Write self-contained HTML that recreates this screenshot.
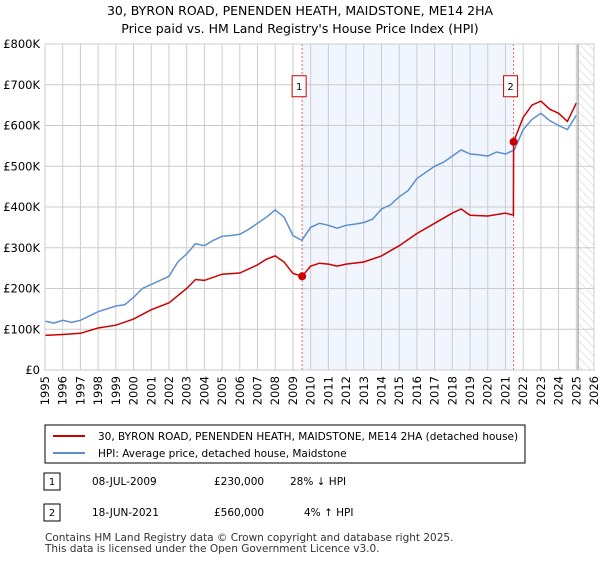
<!DOCTYPE html>
<html><head><meta charset="utf-8"><style>
body{margin:0;background:#fff;font-family:"Liberation Sans","DejaVu Sans",sans-serif;}
svg text{font-family:"DejaVu Sans","Liberation Sans",sans-serif;}
</style></head><body>
<svg id="c" width="600" height="560" xmlns="http://www.w3.org/2000/svg">
<defs><pattern id="hatch" width="6" height="6" patternUnits="userSpaceOnUse" patternTransform="rotate(-45)"><line x1="0" y1="0" x2="0" y2="6" stroke="#ccc" stroke-width="1"/></pattern></defs>
<text x="300" y="15" text-anchor="middle" font-size="12.5" fill="#000">30, BYRON ROAD, PENENDEN HEATH, MAIDSTONE, ME14 2HA</text>
<text x="300" y="33" text-anchor="middle" font-size="12.5" fill="#000">Price paid vs. HM Land Registry's House Price Index (HPI)</text>
<g id="plot"></g>
<rect x="45" y="425" width="480" height="38" fill="#fff" stroke="#000" stroke-width="1"/>
<line x1="53" y1="436" x2="85" y2="436" stroke="#cc0000" stroke-width="2"/>
<text x="98" y="440" font-size="10.5">30, BYRON ROAD, PENENDEN HEATH, MAIDSTONE, ME14 2HA (detached house)</text>
<line x1="53" y1="453" x2="85" y2="453" stroke="#5b8fd0" stroke-width="2"/>
<text x="98" y="457" font-size="10.5">HPI: Average price, detached house, Maidstone</text>
<rect x="44" y="473" width="16" height="17" fill="#fff" stroke="#000"/>
<text x="52" y="485" text-anchor="middle" font-size="10">1</text>
<text x="92" y="485" font-size="10.5">08-JUL-2009</text>
<text x="214" y="485" font-size="10.5">£230,000</text>
<text x="290" y="485" font-size="10.5">28% ↓ HPI</text>
<rect x="44" y="504" width="16" height="17" fill="#fff" stroke="#000"/>
<text x="52" y="516" text-anchor="middle" font-size="10">2</text>
<text x="92" y="516" font-size="10.5">18-JUN-2021</text>
<text x="214" y="516" font-size="10.5">£560,000</text>
<text x="304" y="516" font-size="10.5">4% ↑ HPI</text>
<text x="45" y="541" font-size="10.5" fill="#333">Contains HM Land Registry data © Crown copyright and database right 2025.</text>
<text x="45" y="552" font-size="10.5" fill="#333">This data is licensed under the Open Government Licence v3.0.</text>
</svg>
<script>
const yTicks=[0,100,200,300,400,500,600,700,800];
const yTickLabels=["£0","£100K","£200K","£300K","£400K","£500K","£600K","£700K","£800K"];
const xYears=[1995,1996,1997,1998,1999,2000,2001,2002,2003,2004,2005,2006,2007,2008,2009,2010,2011,2012,2013,2014,2015,2016,2017,2018,2019,2020,2021,2022,2023,2024,2025,2026];
const hpiT=[1995,1995.5,1996,1996.5,1997,1998,1999,1999.5,2000,2000.5,2001,2002,2002.5,2003,2003.5,2004,2004.5,2005,2005.5,2006,2006.5,2007,2007.5,2008,2008.5,2009,2009.5,2010,2010.5,2011,2011.5,2012,2012.5,2013,2013.5,2014,2014.5,2015,2015.5,2016,2016.5,2017,2017.5,2018,2018.5,2019,2019.5,2020,2020.5,2021,2021.5,2022,2022.5,2023,2023.5,2024,2024.5,2025];
const hpiV=[120,115,122,117,122,143,157,160,178,200,210,230,265,285,310,305,318,328,330,333,345,360,375,393,375,330,318,350,360,355,348,355,358,362,370,395,405,425,440,470,485,500,510,525,540,530,528,525,535,530,540,590,615,630,612,600,590,625];
const ppT=[1995,1996,1997,1998,1999,2000,2001,2002,2003,2003.5,2004,2005,2006,2007,2007.5,2008,2008.5,2009,2009.52,2010,2010.5,2011,2011.5,2012,2013,2014,2015,2016,2017,2018,2018.5,2019,2020,2021,2021.45,2021.46,2022,2022.5,2023,2023.5,2024,2024.5,2025];
const ppV=[85,87,90,103,110,125,148,165,200,222,220,235,238,258,272,280,265,237,230,255,262,260,255,260,265,280,305,335,360,385,395,380,378,385,380,560,620,650,660,640,630,610,655];
const saleT=[2009.52,2021.46];
const saleV=[230,560];
const saleLabels=["1","2"];

const NS="http://www.w3.org/2000/svg";
const X0=45,X1=594,Y0=370,Y1=44;
const xs=t=>X0+(t-1995)/(2026-1995)*(X1-X0);
const ys=v=>Y0-v/800*(Y0-Y1);
const g=document.getElementById('plot');
function mk(tag,at){const e=document.createElementNS(NS,tag);for(const k in at)e.setAttribute(k,at[k]);g.appendChild(e);return e;}
let e;
e=mk('rect',{x:xs(saleT[0]),y:Y1,width:xs(saleT[1])-xs(saleT[0]),height:Y0-Y1,fill:'#eef3fc',opacity:0.8});


e=mk('rect',{x:xs(2025.1),y:Y1,width:X1-xs(2025.1),height:Y0-Y1,fill:'url(#hatch)'});


xYears.forEach(y=>{
 e=mk('line',{x1:xs(y),x2:xs(y),y1:Y1,y2:Y0,stroke:'#ccc','stroke-width':1});
 
 
 e=mk('text',{x:0,y:0,'font-size':11.5,'text-anchor':'end',transform:`translate(${xs(y)+4},${Y0+6}) rotate(-90)`});
 e.textContent=y;
 
 
});
yTicks.forEach((v,i)=>{
 e=mk('line',{x1:X0,x2:X1,y1:ys(v),y2:ys(v),stroke:'#ccc','stroke-width':1});
 
 
 e=mk('text',{x:X0-5,y:ys(v)+4,'font-size':11.5,'text-anchor':'end'});
 e.textContent=yTickLabels[i];
 
 
});
e=mk('line',{x1:xs(2025.1),x2:xs(2025.1),y1:Y1,y2:Y0,stroke:'#888','stroke-width':1});


saleT.forEach((t,i)=>{
 e=mk('line',{x1:xs(t),x2:xs(t),y1:Y1,y2:Y0,stroke:'#e06666','stroke-width':1,'stroke-dasharray':'2,2'});
 
 
});
function path(T,V){return T.map((t,i)=>(i?'L':'M')+xs(t).toFixed(1)+','+ys(V[i]).toFixed(1)).join('');}
e=mk('path',{d:path(hpiT,hpiV),fill:'none',stroke:'#5b8fd0','stroke-width':1.5});


e=mk('path',{d:path(ppT,ppV),fill:'none',stroke:'#cc0000','stroke-width':1.5});


saleT.forEach((t,i)=>{
 e=mk('circle',{cx:xs(t),cy:ys(saleV[i]),r:4,fill:'#cc0000'});
 
 
 e=mk('rect',{x:xs(t)-10,y:ys(700)-9,width:14,height:21,fill:'#fff',stroke:'#cc0000'});
 
 
 e=mk('text',{x:xs(t)-3,y:ys(700)+5,'font-size':10,'text-anchor':'middle'});
 e.textContent=saleLabels[i];
 
 
});
e=mk('rect',{x:X0,y:Y1,width:X1-X0,height:Y0-Y1,fill:'none',stroke:'#ccc'});


</script>
</body></html>
